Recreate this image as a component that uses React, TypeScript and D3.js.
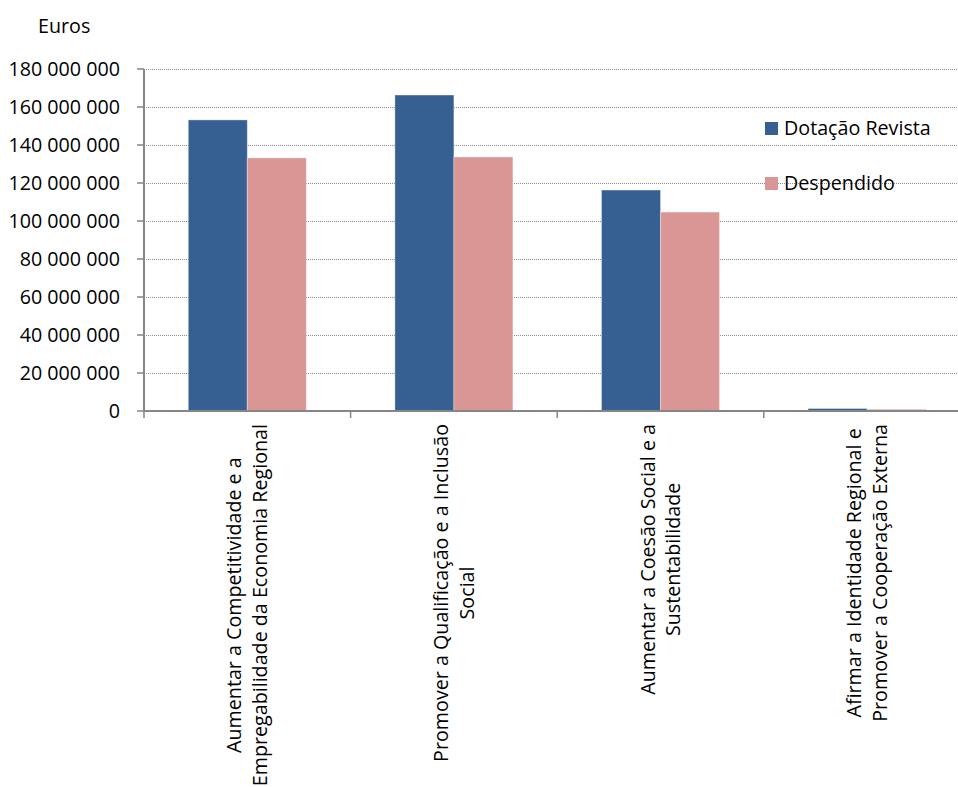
import React, { useEffect, useRef } from "react";
import * as d3 from "d3";

const categories: string[][] = [
  ["Aumentar a Competitividade e a", "Empregabilidade da Economia Regional"],
  ["Promover a Qualificação e a Inclusão", "Social"],
  ["Aumentar a Coesão Social e a", "Sustentabilidade"],
  ["Afirmar a Identidade Regional e", "Promover a Cooperação Externa"],
];
const seriesNames = ["Dotação Revista", "Despendido"];
const dotacaoRevista = [153200000, 166300000, 116300000, 1300000];
const despendido = [133200000, 133700000, 104700000, 900000];
const yTicks = [0, 20000000, 40000000, 60000000, 80000000, 100000000, 120000000, 140000000, 160000000, 180000000];

const W = 958;
const H = 787;
const FONT = "'Open Sans', sans-serif";
const FS = 19.7;
const colors = ["#366092", "#D99694"];

export default function App() {
  const ref = useRef<SVGSVGElement>(null);

  useEffect(() => {
    const svg = d3.select(ref.current);
    svg.selectAll("*").remove();

    const x0 = 144;
    const catW = 206.6;
    const y = d3.scaleLinear().domain([0, 180000000]).range([411, 69]);
    const x = d3
      .scaleBand<number>()
      .domain(d3.range(categories.length))
      .range([x0, x0 + catW * categories.length])
      .padding(0);
    const gap = (catW - 118) / 2;
    const xs = d3
      .scaleBand<number>()
      .domain([0, 1])
      .range([gap, catW - gap])
      .padding(0);

    const fmt = (v: number) => d3.format(",")(v).replace(/,/g, " ");

    // gridlines
    const grid = svg.append("g");
    yTicks.filter((t) => t > 0).forEach((t) => {
      grid
        .append("line")
        .attr("x1", x0)
        .attr("x2", W)
        .attr("y1", y(t) + 0.5)
        .attr("y2", y(t) + 0.5)
        .attr("stroke", "#8c8c8c")
        .attr("stroke-width", 1)
        .attr("stroke-dasharray", "1,1");
    });

    // bars
    const series = [dotacaoRevista, despendido];
    series.forEach((vals, si) => {
      svg
        .append("g")
        .selectAll("rect")
        .data(vals)
        .join("rect")
        .attr("x", (_, i) => (x(i) as number) + (xs(si) as number))
        .attr("width", xs.bandwidth())
        .attr("y", (v) => y(v))
        .attr("height", (v) => y(0) - y(v))
        .attr("fill", colors[si])
        .attr("stroke", "#ffffff")
        .attr("stroke-opacity", 0.35)
        .attr("stroke-width", 1);
    });

    // y axis
    const axisColor = "#868686";
    svg
      .append("line")
      .attr("x1", x0)
      .attr("x2", x0)
      .attr("y1", y(180000000))
      .attr("y2", y(0))
      .attr("stroke", axisColor)
      .attr("stroke-width", 2);
    yTicks.forEach((t) => {
      svg
        .append("line")
        .attr("x1", x0 - 7)
        .attr("x2", x0)
        .attr("y1", y(t))
        .attr("y2", y(t))
        .attr("stroke", axisColor)
        .attr("stroke-width", 1.5);
      svg
        .append("text")
        .attr("x", 120)
        .attr("y", y(t))
        .attr("dy", "0.35em")
        .attr("text-anchor", "end")
        .attr("font-family", FONT)
        .attr("font-size", FS)
        .attr("fill", "#000")
        .text(fmt(t));
    });

    // x axis
    svg
      .append("line")
      .attr("x1", x0)
      .attr("x2", W)
      .attr("y1", y(0))
      .attr("y2", y(0))
      .attr("stroke", axisColor)
      .attr("stroke-width", 2);
    d3.range(categories.length + 1).forEach((i) => {
      const xx = x0 + i * catW;
      svg
        .append("line")
        .attr("x1", xx)
        .attr("x2", xx)
        .attr("y1", y(0))
        .attr("y2", y(0) + 7)
        .attr("stroke", axisColor)
        .attr("stroke-width", 1.5);
    });

    // category labels (rotated)
    const lineH = 25.5;
    const top = 424;
    categories.forEach((lines, i) => {
      const cx = (x(i) as number) + catW / 2;
      const g = svg.append("g");
      const texts = lines.map((ln) =>
        g
          .append("text")
          .attr("font-family", FONT)
          .attr("font-size", FS)
          .attr("fill", "#000")
          .attr("text-anchor", "middle")
          .attr("dy", "0.35em")
          .text(ln)
      );
      const maxLen = d3.max(texts, (t) => (t.node() as SVGTextElement).getComputedTextLength()) || 0;
      const cy = top + maxLen / 2;
      texts.forEach((t, li) => {
        const lx = cx + (li - (lines.length - 1) / 2) * lineH;
        t.attr("transform", `translate(${lx},${cy}) rotate(-90)`);
      });
    });

    // Euros label
    svg
      .append("text")
      .attr("x", 38)
      .attr("y", 33)
      .attr("font-family", FONT)
      .attr("font-size", FS)
      .attr("fill", "#000")
      .text("Euros");

    // legend
    const legendY = [128.5, 183.5];
    seriesNames.forEach((name, si) => {
      svg
        .append("rect")
        .attr("x", 765)
        .attr("y", legendY[si] - 6.5)
        .attr("width", 13)
        .attr("height", 13)
        .attr("fill", colors[si]);
      svg
        .append("text")
        .attr("x", 784)
        .attr("y", legendY[si])
        .attr("dy", "0.35em")
        .attr("font-family", FONT)
        .attr("font-size", FS)
        .attr("fill", "#000")
        .text(name);
    });
  }, []);

  return (
    <svg
      ref={ref}
      width={W}
      height={H}
      style={{ position: "absolute", left: 0, top: 0, background: "#fff" }}
    />
  );
}
